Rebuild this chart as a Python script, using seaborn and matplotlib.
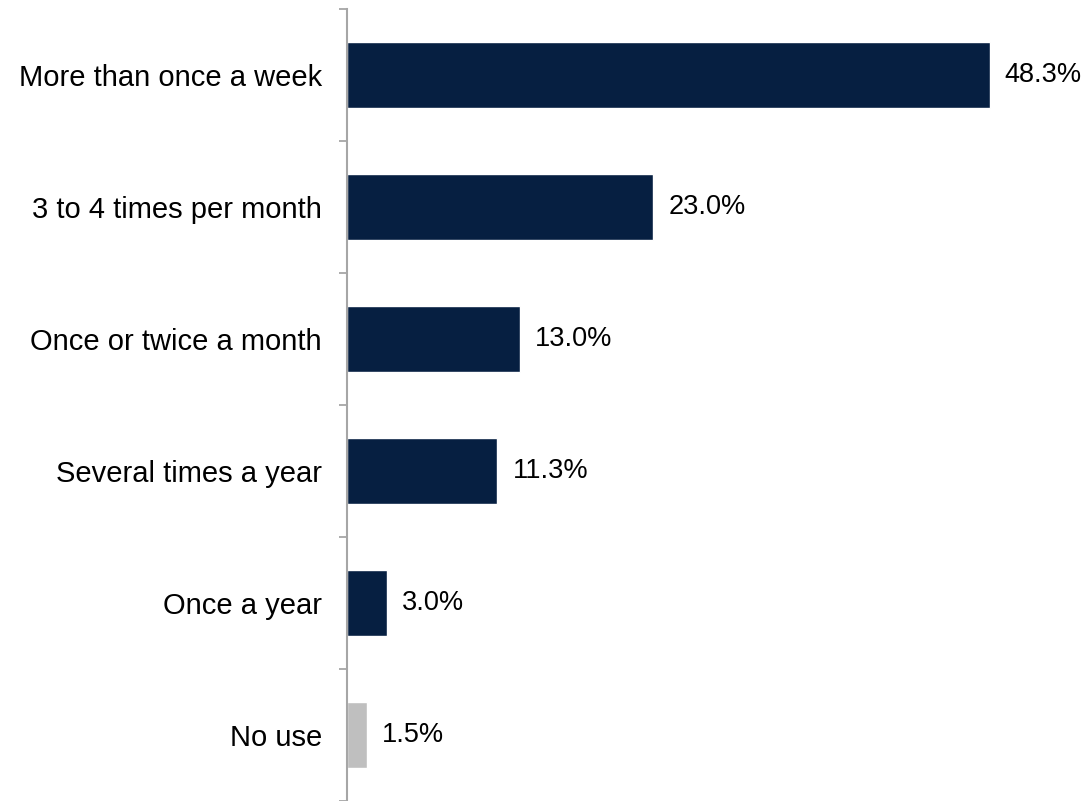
import pandas as pd
import matplotlib
matplotlib.use('Agg')
import matplotlib.pyplot as plt
import seaborn as sns

# Dados do gráfico
categorias = ["More than once a week", "3 to 4 times per month", "Once or twice a month",
              "Several times a year", "Once a year", "No use"]
valores = [48.3, 23.0, 13.0, 11.3, 3.0, 1.5]
cores = ["#061F41", "#061F41", "#061F41", "#061F41", "#061F41", "#BFBFBF"]

df = pd.DataFrame({"categoria": categorias, "valor": valores})

sns.set_style("white")
plt.rcParams['font.family'] = ['Liberation Sans', 'DejaVu Sans']

fig = plt.figure(figsize=(10.84, 8.01), dpi=100)
ax = fig.add_axes([347 / 1084, 0.0, 1 - 347 / 1084, 1 - 9 / 801])

sns.barplot(data=df, x="valor", y="categoria", hue="categoria", palette=cores,
            width=0.5, legend=False, ax=ax, saturation=1)

ax.set_xlim(0, 55.4)
ax.set_ylim(5.5, -0.5)
ax.set_xlabel("")
ax.set_ylabel("")
ax.set_xticks([])

# Rótulos de valor
for i, v in enumerate(valores):
    ax.annotate(f"{v:.1f}%", (v, i), xytext=(11, 0), textcoords="offset points",
                va="center", ha="left", fontsize=19.5, color="black")

# Eixo y com marcas nas fronteiras
ax.set_yticks(range(len(categorias)))
ax.set_yticklabels(categorias, fontsize=21, color="black")
ax.tick_params(axis='y', which='major', left=True, length=0, pad=18)
ax.set_yticks([i - 0.5 for i in range(len(categorias) + 1)], minor=True)
ax.tick_params(axis='y', which='minor', left=True, length=6, width=1.3,
               color="#A6A6A6", direction='out')

for s in ["top", "right", "bottom"]:
    ax.spines[s].set_visible(False)
ax.spines["left"].set_color("#A6A6A6")
ax.spines["left"].set_linewidth(1.5)

fig.savefig("out.png", dpi=100)
